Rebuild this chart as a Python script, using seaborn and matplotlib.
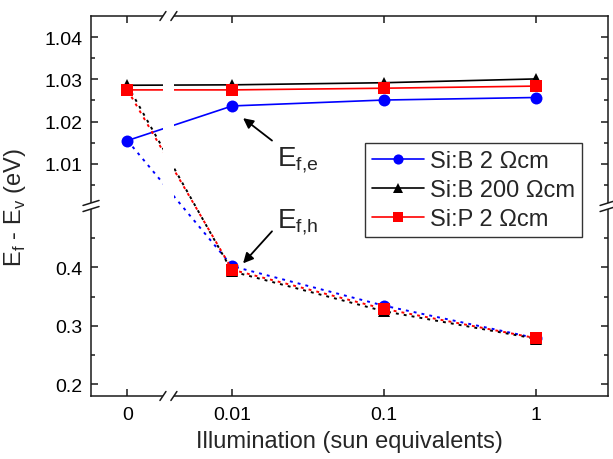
import numpy as np
import pandas as pd
import matplotlib
matplotlib.use("Agg")
import matplotlib.pyplot as plt
import seaborn as sns
from matplotlib.ticker import FixedLocator, FixedFormatter, NullLocator
from matplotlib.lines import Line2D
from matplotlib.patches import Rectangle

# ---------------------------------------------------------------- data
illumination = [0, 0.01, 0.1, 1]
illum_ticks = [0, 0.01, 0.1, 1]
illum_tick_labels = ["0", "0.01", "0.1", "1"]

samples = ["Si:B 2 \u03a9cm", "Si:B 200 \u03a9cm", "Si:P 2 \u03a9cm"]
colors = ["#0000ff", "#000000", "#ff0000"]
markers = ["o", "^", "s"]

# electron quasi-Fermi level E_f,e (value at 0 is the dark Fermi level)
ef_e_sib2 = [1.0155, 1.0237, 1.0251, 1.0257]
ef_e_sib200 = [1.0286, 1.0287, 1.0292, 1.0301]
ef_e_sip2 = [1.0275, 1.0275, 1.0279, 1.0284]

# hole quasi-Fermi level E_f,h under illumination (0.01, 0.1, 1 suns)
ef_h_sib2 = [0.402, 0.3345, 0.279]
ef_h_sib200 = [0.393, 0.325, 0.278]
ef_h_sip2 = [0.396, 0.329, 0.279]

y_major = [0.2, 0.3, 0.4, 1.01, 1.02, 1.03, 1.04]
y_major_labels = ["0.2", "0.3", "0.4", "1.01", "1.02", "1.03", "1.04"]
y_minor = [0.25, 0.35, 0.45, 1.005, 1.015, 1.025, 1.035]

# ---------------------------------------------------------------- style
sns.set_style("ticks")
plt.rcParams.update({
    "font.family": ["Liberation Sans", "DejaVu Sans"],
    "mathtext.fontset": "custom",
    "mathtext.rm": "Liberation Sans",
    "axes.linewidth": 1.1,
    "axes.edgecolor": "#1a1a1a",
    "xtick.direction": "in",
    "ytick.direction": "in",
    "xtick.top": True,
    "ytick.right": True,
    "xtick.color": "#1a1a1a",
    "ytick.color": "#1a1a1a",
    "xtick.labelcolor": "black",
    "ytick.labelcolor": "black",
})

# ---------------------------------------------------------------- broken scales
# x: linear segment holding the dark point, then log10 for the illuminated points
X_ZERO_POS = -2.69      # position of x = 0, in decades
X_SPLIT_POS = -2.42     # boundary between the two segments, in decades
X_LIN_UNIT = 0.01       # data width of one decade in the linear segment


def x_forward(x):
    x = np.asarray(x, dtype=float)
    logx = np.log10(np.where(x > 0, x, 1.0))
    return np.where(x > 10 ** X_SPLIT_POS, logx, X_ZERO_POS + x / X_LIN_UNIT)


def x_inverse(t):
    t = np.asarray(t, dtype=float)
    return np.where(t > X_SPLIT_POS, 10 ** np.minimum(t, 10), (t - X_ZERO_POS) * X_LIN_UNIT)


# y: two linear windows (hole level below, electron level above) of equal height
Y_LOW = (0.18, 0.505)
Y_HIGH = (1.0, 1.045)


def y_forward(y):
    y = np.asarray(y, dtype=float)
    return np.where(y < 0.75,
                    (y - Y_LOW[0]) / (Y_LOW[1] - Y_LOW[0]),
                    1.0 + (y - Y_HIGH[0]) / (Y_HIGH[1] - Y_HIGH[0]))


def y_inverse(t):
    t = np.asarray(t, dtype=float)
    return np.where(t < 1.0,
                    Y_LOW[0] + t * (Y_LOW[1] - Y_LOW[0]),
                    Y_HIGH[0] + (t - 1.0) * (Y_HIGH[1] - Y_HIGH[0]))


XLIM = (-0.0024, 3.0)
YLIM = (Y_LOW[0], Y_HIGH[1])

# ---------------------------------------------------------------- figure
fig, ax = plt.subplots(figsize=(6.13, 4.60), dpi=100)
fig.subplots_adjust(left=0.1485, right=0.992, bottom=0.137, top=0.963)

ef_e = [ef_e_sib2, ef_e_sib200, ef_e_sip2]
ef_h = [ef_h_sib2, ef_h_sib200, ef_h_sip2]

legend_handles = []
for name, col, mk, e_vals, h_vals in zip(samples, colors, markers, ef_e, ef_h):
    ms = 8.0 if mk == "s" else 8.6
    df_e = pd.DataFrame({"illum": illumination, "E": e_vals})
    sns.lineplot(data=df_e, x="illum", y="E", ax=ax, color=col, marker=mk,
                 markersize=ms, markeredgecolor=col, markeredgewidth=0,
                 linewidth=1.2, errorbar=None, legend=False, sort=False)
    legend_handles.append(ax.lines[-1])
    # hole level starts from the common dark Fermi level
    df_h = pd.DataFrame({"illum": illumination, "E": [e_vals[0]] + list(h_vals)})
    sns.lineplot(data=df_h, x="illum", y="E", ax=ax, color=col, marker=mk,
                 markersize=ms, markeredgecolor=col, markeredgewidth=0,
                 linewidth=1.4, linestyle=(0, (1.5, 2.6)), markevery=[1, 2, 3],
                 errorbar=None, legend=False, sort=False)

ax.set_xscale("function", functions=(x_forward, x_inverse))
ax.set_yscale("function", functions=(y_forward, y_inverse))
ax.set_xlim(*XLIM)
ax.set_ylim(*YLIM)

ax.xaxis.set_major_locator(FixedLocator(illum_ticks))
ax.xaxis.set_major_formatter(FixedFormatter(illum_tick_labels))
ax.xaxis.set_minor_locator(NullLocator())
ax.yaxis.set_major_locator(FixedLocator(y_major))
ax.yaxis.set_major_formatter(FixedFormatter(y_major_labels))
ax.yaxis.set_minor_locator(FixedLocator(y_minor))

ax.tick_params(which="major", length=5, width=1.1, labelsize=14)
ax.tick_params(axis="x", which="major", pad=7)
ax.tick_params(axis="y", which="major", pad=6)
ax.tick_params(which="minor", length=3, width=1.1)

ax.set_xlabel("Illumination (sun equivalents)", fontsize=17, labelpad=5)
ax.set_ylabel("E$_\\mathregular{f}$ - E$_\\mathregular{v}$ (eV)", fontsize=17)
ax.yaxis.set_label_coords(-0.122, 0.5)

# ---------------------------------------------------------------- annotations
arrow = dict(arrowstyle="-|>", color="black", lw=1.3, mutation_scale=15,
             shrinkA=0, shrinkB=0)
ax.annotate("", xy=(0.0118, 1.0208), xytext=(0.0183, 1.0155), arrowprops=arrow)
ax.annotate("", xy=(0.0118, 0.4069), xytext=(0.0183, 0.4617), arrowprops=arrow)
ax.text(0.0198, 1.0096, r"$\mathregular{E_{f{,}e}}$", fontsize=20,
        ha="left", va="baseline")
ax.text(0.0198, 0.4686, r"$\mathregular{E_{f{,}h}}$", fontsize=20,
        ha="left", va="baseline")

# ---------------------------------------------------------------- legend
leg = ax.legend(legend_handles, samples, loc="upper left",
                bbox_to_anchor=(0.530, 0.666), borderaxespad=0,
                fontsize=17, frameon=True, fancybox=False, framealpha=1,
                edgecolor="#333333", handlelength=2.2, handletextpad=0.25,
                labelspacing=0.3, borderpad=0.3, markerscale=0.85)
leg.get_frame().set_linewidth(1.0)

# ---------------------------------------------------------------- axis breaks
t_left, t_right = x_forward(XLIM[0]), x_forward(XLIM[1])
xb = float((X_SPLIT_POS - t_left) / (t_right - t_left))
yb = float((1.0 - y_forward(YLIM[0])) / (y_forward(YLIM[1]) - y_forward(YLIM[0])))

spine_col = "#1a1a1a"
dx_half = 0.0106   # half gap between the two slashes on the x break
dy_half = 0.0080   # half gap between the two slashes on the y break

# blank strip through the data area at the x break
ax.add_patch(Rectangle((xb - dx_half, -0.01), 2 * dx_half, 1.02,
                       transform=ax.transAxes, facecolor="white",
                       edgecolor="none", zorder=3, clip_on=False))
# blank the side spines at the y break
for xs in (0.0, 1.0):
    ax.add_patch(Rectangle((xs - 0.008, yb - dy_half), 0.016, 2 * dy_half,
                           transform=ax.transAxes, facecolor="white",
                           edgecolor="none", zorder=3, clip_on=False))

slash_kw = dict(transform=ax.transAxes, color=spine_col, lw=1.1,
                clip_on=False, zorder=4)
for ys in (0.0, 1.0):
    for xc in (xb - dx_half, xb + dx_half):
        ax.add_line(Line2D([xc - 0.0058, xc + 0.0058],
                           [ys - 0.0118, ys + 0.0118], **slash_kw))
for xs in (0.0, 1.0):
    for yc in (yb - dy_half, yb + dy_half):
        ax.add_line(Line2D([xs - 0.0155, xs + 0.0155],
                           [yc - 0.0066, yc + 0.0066], **slash_kw))

fig.savefig("out.png", dpi=100)
